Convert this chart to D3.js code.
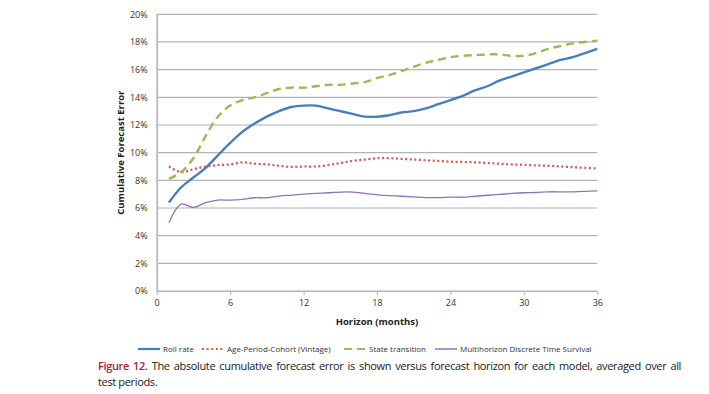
<!DOCTYPE html>
<html>
<head>
<meta charset="utf-8">
<script src="https://cdn.jsdelivr.net/npm/d3@7"></script>
<style>
  body { margin: 0; background: #fff; }
  #chart { position: relative; width: 709px; height: 394px; }
  .caption {
    position: absolute; left: 98px; width: 583px;
    font-family: "Open Sans", sans-serif; font-size: 11px; line-height: 16px;
    color: #222; letter-spacing: -0.35px; white-space: nowrap;
  }
  #cap1 { top: 358px; text-align: justify; text-align-last: justify; }
  #cap2 { top: 374px; }
  .caption b { color: #a0233c; font-weight: 600; }
</style>
</head>
<body>
<div id="chart">
  <div class="caption" id="cap1"><b>Figure 12.</b> The absolute cumulative forecast error is shown versus forecast horizon for each model, averaged over all</div>
  <div class="caption" id="cap2">test periods.</div>
</div>
<script>
// horizon in months
var months = d3.range(1, 37);

var rollRate = [6.4, 7.5, 8.2, 8.9, 9.8, 10.7, 11.5, 12.1, 12.6, 13.0, 13.3, 13.4,
  13.4, 13.2, 13.0, 12.8, 12.6, 12.6, 12.7, 12.9, 13.0, 13.2, 13.5, 13.8,
  14.1, 14.5, 14.8, 15.2, 15.5, 15.8, 16.1, 16.4, 16.7, 16.9, 17.2, 17.5];

var vintage = [9.0, 8.6, 8.8, 9.0, 9.1, 9.15, 9.3, 9.2, 9.15, 9.05, 8.97, 9.0,
  9.0, 9.1, 9.25, 9.4, 9.5, 9.6, 9.6, 9.55, 9.5, 9.45, 9.4, 9.35,
  9.33, 9.3, 9.25, 9.2, 9.15, 9.12, 9.08, 9.05, 9.0, 8.95, 8.9, 8.86];

var stateTransition = [8.1, 8.6, 9.6, 11.2, 12.6, 13.4, 13.8, 14.0, 14.3, 14.6, 14.7, 14.7,
  14.8, 14.9, 14.9, 15.0, 15.1, 15.4, 15.6, 15.9, 16.2, 16.5, 16.7, 16.9,
  17.0, 17.05, 17.1, 17.1, 17.0, 17.0, 17.2, 17.5, 17.7, 17.9, 18.0, 18.1];

var survival = [4.93, 6.28, 6.04, 6.38, 6.57, 6.57, 6.62, 6.74, 6.74, 6.86, 6.93, 7.0,
  7.05, 7.1, 7.15, 7.15, 7.05, 6.95, 6.9, 6.85, 6.8, 6.75, 6.75, 6.78,
  6.78, 6.85, 6.92, 6.98, 7.05, 7.1, 7.12, 7.17, 7.17, 7.17, 7.2, 7.24];

var xTicks = [0, 6, 12, 18, 24, 30, 36];
var yTicks = [0, 2, 4, 6, 8, 10, 12, 14, 16, 18, 20];

var seriesNames = ["Roll rate", "Age-Period-Cohort (Vintage)", "State transition", "Multihorizon Discrete Time Survival"];
var seriesValues = [rollRate, vintage, stateTransition, survival];

var styles = [
  { color: "#4a7ebb", width: 2.4, dash: null },
  { color: "#d9534f", width: 2.2, dash: "2,2.6" },
  { color: "#9bbb59", width: 2.4, dash: "8,5" },
  { color: "#8f74b8", width: 1.3, dash: null }
];

var width = 709, height = 394;
var plot = { left: 156.7, right: 597.3, top: 14.3, bottom: 291 };

var svg = d3.select("#chart")
  .insert("svg", ":first-child")
  .attr("width", width)
  .attr("height", height)
  .style("position", "absolute")
  .style("left", 0).style("top", 0);

var xScale = d3.scaleLinear().domain([0, 36]).range([plot.left, plot.right]);
var yScale = d3.scaleLinear().domain([0, 20]).range([plot.bottom, plot.top]);

// gridlines
svg.append("g")
  .selectAll("line")
  .data(yTicks)
  .join("line")
  .attr("x1", plot.left)
  .attr("x2", plot.right)
  .attr("y1", function (d) { return yScale(d); })
  .attr("y2", function (d) { return yScale(d); })
  .attr("stroke", "#b3b3b3")
  .attr("stroke-width", 1.2);

// y axis labels
var yAxis = svg.append("g")
  .attr("transform", "translate(" + plot.left + ",0)")
  .call(d3.axisLeft(yScale).tickValues(yTicks).tickSize(0).tickPadding(9)
    .tickFormat(function (d) { return d + "%"; }));
yAxis.select(".domain").attr("stroke", "#bdbdbd").attr("stroke-width", 2);
yAxis.selectAll("text")
  .attr("font-family", "Open Sans, sans-serif")
  .attr("font-size", 9)
  .attr("fill", "#333");

// x axis
var xAxis = svg.append("g")
  .attr("transform", "translate(0," + plot.bottom + ")")
  .call(d3.axisBottom(xScale).tickValues(xTicks).tickSize(4).tickSizeOuter(0).tickPadding(5));
xAxis.select(".domain").attr("stroke", "#b3b3b3").attr("stroke-width", 1.2);
xAxis.selectAll(".tick line").attr("stroke", "#b3b3b3");
xAxis.selectAll("text")
  .attr("font-family", "Open Sans, sans-serif")
  .attr("font-size", 9)
  .attr("fill", "#333");

// axis titles
svg.append("text")
  .attr("x", (plot.left + plot.right) / 2)
  .attr("y", 325)
  .attr("text-anchor", "middle")
  .attr("font-family", "Open Sans, sans-serif")
  .attr("font-size", 9.5)
  .attr("font-weight", "bold")
  .attr("fill", "#222")
  .text("Horizon (months)");

svg.append("text")
  .attr("transform", "translate(124," + ((plot.top + plot.bottom) / 2) + ") rotate(-90)")
  .attr("text-anchor", "middle")
  .attr("font-family", "Open Sans, sans-serif")
  .attr("font-size", 9.5)
  .attr("font-weight", "bold")
  .attr("fill", "#222")
  .text("Cumulative Forecast Error");

// lines
var line = d3.line()
  .x(function (d, i) { return xScale(months[i]); })
  .y(function (d) { return yScale(d); })
  .curve(d3.curveCatmullRom.alpha(0.5));

var drawOrder = [3, 1, 2, 0];
drawOrder.forEach(function (k) {
  svg.append("path")
    .datum(seriesValues[k])
    .attr("fill", "none")
    .attr("stroke", styles[k].color)
    .attr("stroke-width", styles[k].width)
    .attr("stroke-dasharray", styles[k].dash)
    .attr("d", line);
});

// legend
var legendX = [138, 202, 344, 435];
var legend = svg.append("g").attr("transform", "translate(0,349)");
seriesNames.forEach(function (name, k) {
  legend.append("line")
    .attr("x1", legendX[k])
    .attr("x2", legendX[k] + 22)
    .attr("y1", 0).attr("y2", 0)
    .attr("stroke", styles[k].color)
    .attr("stroke-width", k === 3 ? 1.5 : 2.2)
    .attr("stroke-dasharray", styles[k].dash);
  legend.append("text")
    .attr("x", legendX[k] + 25)
    .attr("y", 3)
    .attr("font-family", "Open Sans, sans-serif")
    .attr("font-size", 8)
    .attr("fill", "#333")
    .text(name);
});
</script>
</body>
</html>
